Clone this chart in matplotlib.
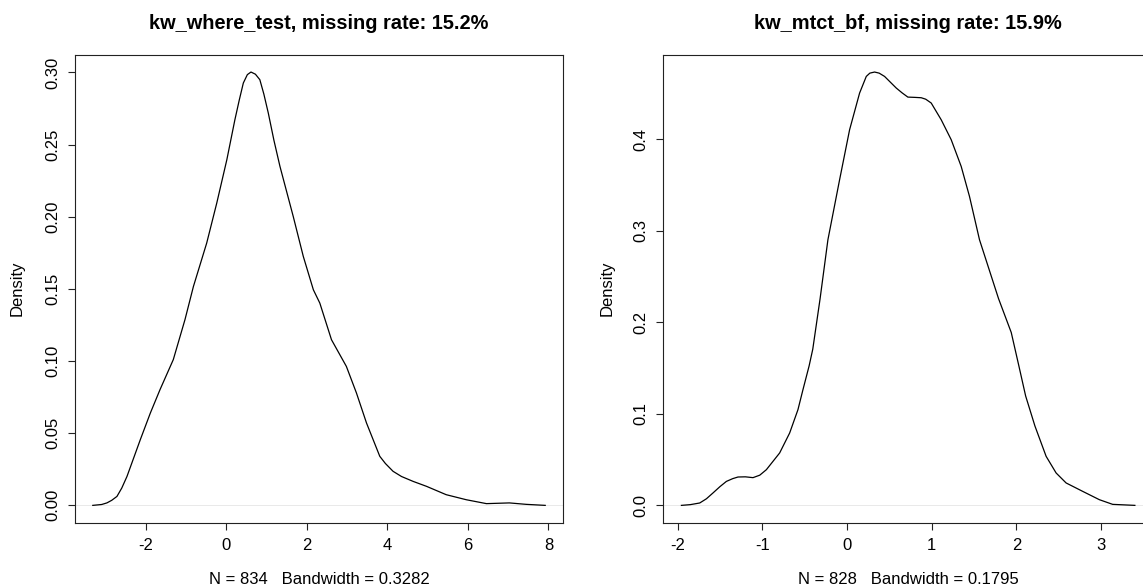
import matplotlib
matplotlib.use("Agg")
import matplotlib.pyplot as plt
import numpy as np

# ---- data ----
left_title = "kw_where_test, missing rate: 15.2%"
left_xlabel = "N = 834   Bandwidth = 0.3282"
left_x = [-3.32, -3.10, -2.97, -2.85, -2.72, -2.60, -2.47, -2.14, -1.89, -1.65, -1.32,
          -1.03, -0.82, -0.49, -0.24, 0.01, 0.21, 0.32, 0.42, 0.52, 0.61, 0.72, 0.83,
          0.93, 1.04, 1.18, 1.33, 1.66, 1.91, 2.16, 2.32, 2.61, 2.98, 3.23, 3.48, 3.81,
          3.95, 4.14, 4.35, 4.64, 4.97, 5.46, 5.96, 6.46, 7.03, 7.45, 7.92]
left_y = [0.0, 0.0006, 0.0017, 0.0035, 0.0062, 0.012, 0.0201, 0.0455, 0.064, 0.0802,
          0.101, 0.1287, 0.1517, 0.1818, 0.2095, 0.2395, 0.2672, 0.281, 0.2927, 0.2985,
          0.3003, 0.2988, 0.295, 0.285, 0.2719, 0.253, 0.2349, 0.2002, 0.1725, 0.1494,
          0.1402, 0.1148, 0.0963, 0.0779, 0.0571, 0.0340, 0.029, 0.0236, 0.020, 0.0166,
          0.0132, 0.0074, 0.0039, 0.0012, 0.0017, 0.0007, 0.0]
left_xticks = [-2, 0, 2, 4, 6, 8]
left_yticks = [0.00, 0.05, 0.10, 0.15, 0.20, 0.25, 0.30]

right_title = "kw_mtct_bf, missing rate: 15.9%"
right_xlabel = "N = 828   Bandwidth = 0.1795"
right_x = [-1.955, -1.85, -1.739, -1.66, -1.582, -1.50, -1.424, -1.35, -1.287, -1.20,
           -1.110, -1.03, -0.952, -0.795, -0.677, -0.579, -0.520, -0.447, -0.404,
           -0.318, -0.225, -0.087, 0.031, 0.149, 0.228, 0.27, 0.326, 0.38, 0.444,
           0.582, 0.65, 0.719, 0.80, 0.877, 0.93, 0.995, 1.113, 1.231, 1.349, 1.447,
           1.565, 1.79, 1.94, 2.03, 2.11, 2.22, 2.352, 2.47, 2.588, 2.784, 2.981,
           3.138, 3.40]
right_y = [0.0, 0.0008, 0.0026, 0.0072, 0.0136, 0.0205, 0.0262, 0.0292, 0.031, 0.0312,
           0.0303, 0.033, 0.039, 0.0573, 0.0791, 0.1046, 0.1264, 0.1525, 0.1707,
           0.2256, 0.2904, 0.356, 0.4106, 0.4507, 0.4689, 0.4725, 0.4737, 0.4725,
           0.4689, 0.4562, 0.451, 0.4463, 0.446, 0.4456, 0.444, 0.4398, 0.4215,
           0.3997, 0.3705, 0.3377, 0.2904, 0.226, 0.189, 0.1525, 0.1196, 0.0867,
           0.0536, 0.0354, 0.0245, 0.0153, 0.0062, 0.0011, 0.0]
right_xticks = [-2, -1, 0, 1, 2, 3]
right_yticks = [0.0, 0.1, 0.2, 0.3, 0.4]

plt.rcParams['font.family'] = ['Liberation Sans', 'DejaVu Sans']

W, H = 1143, 588
fig = plt.figure(figsize=(W / 100, H / 100), dpi=100)


def rpanel(px_left, px_right, px_top, px_bottom, xs, ys, xticks, yticks, yfmt,
           title, xlabel, ylab_x):
    ax = fig.add_axes([px_left / W, 1 - px_bottom / H,
                       (px_right - px_left) / W, (px_bottom - px_top) / H])
    ax.plot(xs, ys, color='black', lw=0.9, solid_joinstyle='round')
    ax.axhline(0, color='#d8d8d8', lw=0.4, zorder=0)
    xr = max(xs) - min(xs)
    yr = max(ys) - min(ys)
    ax.set_xlim(min(xs) - 0.04 * xr, max(xs) + 0.04 * xr)
    ax.set_ylim(min(ys) - 0.04 * yr, max(ys) + 0.04 * yr)
    ax.set_xticks(xticks)
    ax.set_xticklabels([str(t) for t in xticks])
    ax.set_yticks(yticks)
    ax.set_yticklabels([yfmt % t for t in yticks])
    for s in ax.spines.values():
        s.set_linewidth(0.8)
        s.set_color('#222222')
    ax.tick_params(axis='both', direction='out', length=5, width=0.8,
                   color='#222222', labelsize=12, top=False, right=False)
    ax.tick_params(axis='x', pad=6.0)
    ax.tick_params(axis='y', pad=5.6, labelrotation=90)
    for lab in ax.get_yticklabels():
        lab.set_verticalalignment('center')
    ax.set_title(title, fontsize=14.4, fontweight='bold', pad=18.3)
    cx = (px_left + px_right) / 2
    fig.text(cx / W, 3.5 / H, xlabel, ha='center', va='baseline', fontsize=12)
    cy = (px_top + px_bottom) / 2
    fig.text(ylab_x / W, 1 - cy / H, 'Density', rotation=90, ha='right',
             va='center', fontsize=12)
    return ax


rpanel(74.7, 563.3, 54.7, 522.7, left_x, left_y, left_xticks, left_yticks, '%.2f',
       left_title, left_xlabel, 24.8)
rpanel(663.3, 1153.0, 54.7, 522.7, right_x, right_y, right_xticks, right_yticks, '%.1f',
       right_title, right_xlabel, 614.5)

fig.savefig('out.png', dpi=100)
